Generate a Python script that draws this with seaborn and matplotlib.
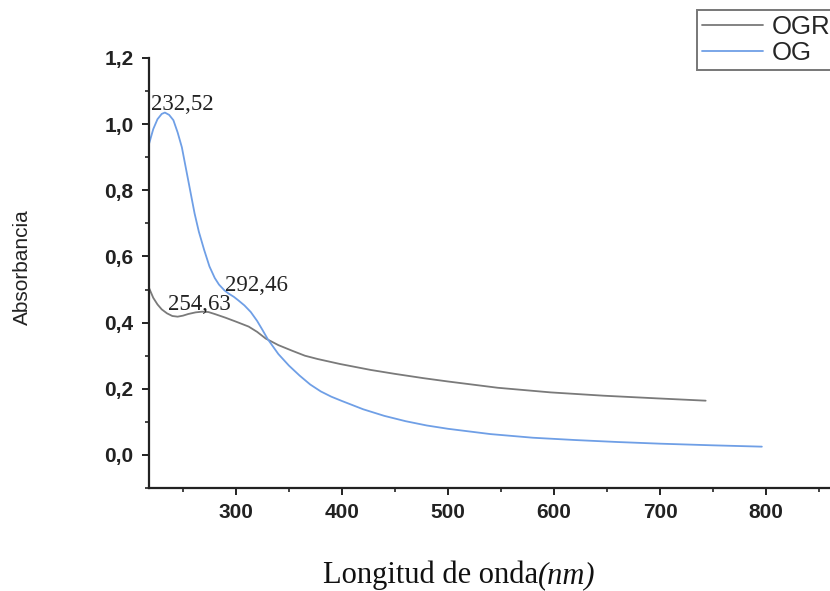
import numpy as np
import pandas as pd
import matplotlib
matplotlib.use("Agg")
import matplotlib.pyplot as plt
import seaborn as sns
from matplotlib.ticker import MultipleLocator, FuncFormatter
from matplotlib.lines import Line2D

# ---- data ----
og_wl = [218, 222, 226, 230, 233, 237, 241, 245, 249, 255, 261, 265, 270, 275, 280, 284,
         289, 293, 298, 302, 308, 314, 320, 325, 330, 340, 350, 360, 370, 380, 390, 400,
         420, 440, 460, 480, 500, 540, 580, 620, 660, 700, 750, 796]
og_abs = [0.94, 0.985, 1.015, 1.031, 1.035, 1.028, 1.012, 0.975, 0.93, 0.83, 0.73, 0.675,
          0.62, 0.57, 0.535, 0.515, 0.498, 0.488, 0.478, 0.468, 0.452, 0.432, 0.405, 0.378,
          0.35, 0.305, 0.27, 0.24, 0.213, 0.192, 0.176, 0.163, 0.138, 0.118, 0.102, 0.089,
          0.079, 0.063, 0.052, 0.045, 0.039, 0.034, 0.029, 0.025]
ogr_wl = [218, 222, 226, 230, 235, 240, 245, 250, 255, 262, 268, 274, 280, 290, 300, 312,
          320, 328, 340, 353, 365, 377, 398, 427, 450, 477, 500, 547, 597, 647, 697, 743]
ogr_abs = [0.505, 0.475, 0.455, 0.44, 0.428, 0.42, 0.418, 0.421, 0.426, 0.431, 0.433, 0.432,
           0.426, 0.415, 0.403, 0.388, 0.372, 0.352, 0.332, 0.315, 0.3, 0.29, 0.275, 0.257,
           0.245, 0.232, 0.222, 0.203, 0.189, 0.179, 0.171, 0.164]
peak_labels = ["232,52", "292,46", "254,63"]
series_names = ["OGR", "OG"]
colors = {"OGR": "#7a7a7a", "OG": "#6f9fe6"}

df = pd.concat([
    pd.DataFrame({"wl": ogr_wl, "abs": ogr_abs, "serie": "OGR"}),
    pd.DataFrame({"wl": og_wl, "abs": og_abs, "serie": "OG"}),
])

sns.set_style("white")
plt.rcParams['font.family'] = ['Liberation Sans', 'DejaVu Sans']

fig = plt.figure(figsize=(8.30, 5.91), dpi=100)
ax = fig.add_axes([149/830, 103/591, (835-149)/830, 430/591])

sns.lineplot(data=df, x="wl", y="abs", hue="serie", hue_order=series_names,
             palette=colors, linewidth=1.3, ax=ax, legend=False, sort=False,
             estimator=None)

ax.set_xlim(218, 865)
ax.xaxis.set_major_locator(MultipleLocator(100))
ax.xaxis.set_minor_locator(MultipleLocator(50))
ax.set_yticks([0.0, 0.2, 0.4, 0.6, 0.8, 1.0, 1.2])
ax.yaxis.set_minor_locator(MultipleLocator(0.1))
ax.yaxis.set_major_formatter(FuncFormatter(lambda v, p: f"{abs(v):.1f}".replace(".", ",")))
ax.set_ylim(-0.1, 1.2)
ax.set_xlabel("")
ax.set_ylabel("")

for s in ["top", "right"]:
    ax.spines[s].set_visible(False)
for s in ["left", "bottom"]:
    ax.spines[s].set_linewidth(1.6)
    ax.spines[s].set_color("#222222")
ax.tick_params(which="major", direction="out", length=5, width=1.4, color="#222222",
               labelsize=15, labelcolor="#222222", left=True, bottom=True)
ax.tick_params(axis="y", which="major", pad=6)
ax.tick_params(axis="x", which="major", pad=6)
ax.tick_params(which="minor", direction="out", length=3, width=1.2, color="#222222",
               left=True, bottom=True)
for lab in ax.get_xticklabels() + ax.get_yticklabels():
    lab.set_fontweight("bold")

# x label: regular part + italic "(nm)"
ybase = 1 - 583/591
t1 = fig.text(0, ybase, "Longitud de onda", fontfamily="Liberation Serif", fontsize=22,
              ha="left", va="baseline", color="#111111")
t2 = fig.text(0, ybase, "(nm)", fontfamily="Liberation Serif", fontstyle="italic",
              fontsize=22, ha="left", va="baseline", color="#111111")
fig.canvas.draw()
r = fig.canvas.get_renderer()
w1 = t1.get_window_extent(r).width / fig.bbox.width
w2 = t2.get_window_extent(r).width / fig.bbox.width
x0 = 459/830 - (w1 + w2) / 2
t1.set_x(x0)
t2.set_x(x0 + w1)

fig.text(22/830, 1-267/591, "Absorbancia", rotation=90, fontsize=15, ha="center",
         va="center", color="#222222")

# peak annotations (left, baseline in data coords)
ann_pos = [(219.8, 1.042), (289.5, 0.496), (236, 0.438)]
for txt, (xx, yy) in zip(peak_labels, ann_pos):
    ax.text(xx, yy, txt, fontfamily="Liberation Serif", fontsize=16.5, color="#222222",
            ha="left", va="baseline")

# legend (frame runs past the right edge, as in the reference)
handles = [Line2D([], [], color=colors[n], lw=1.3) for n in series_names]
leg = fig.legend(handles, series_names, loc="upper left",
                 bbox_to_anchor=(697/830, 1-10/591, 0.2, 0), mode="expand",
                 fontsize=18.5, frameon=True,
                 fancybox=False, edgecolor="#555555", handlelength=2.35,
                 handletextpad=0.35, borderpad=0.2, labelspacing=0.08,
                 borderaxespad=0)
leg.get_frame().set_linewidth(1.4)

fig.savefig("out.png", dpi=100)
